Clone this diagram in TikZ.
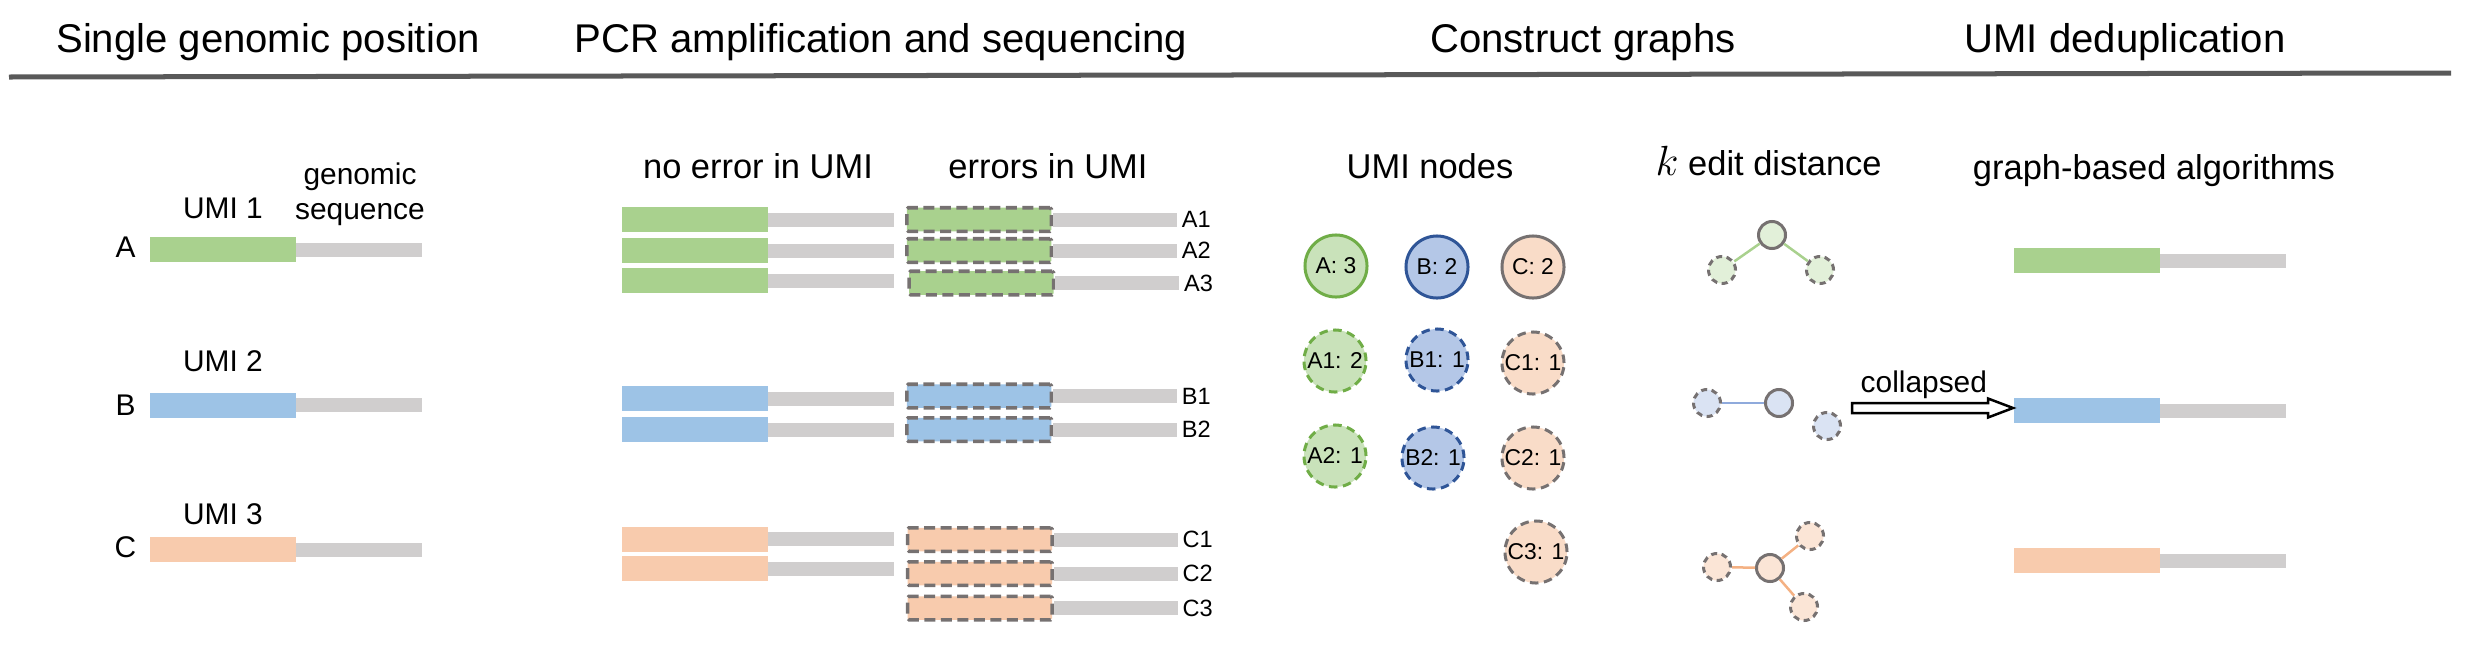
\documentclass[tikz,border=0pt]{standalone}
\usepackage{fontspec}
\setmainfont{Liberation Sans}
\usetikzlibrary{calc}
\definecolor{ugreen}{HTML}{A9D18E}
\definecolor{ublue}{HTML}{9DC3E6}
\definecolor{upeach}{HTML}{F8CBAD}
\definecolor{seqgray}{HTML}{D0CECE}
\definecolor{boxgray}{HTML}{767171}
\definecolor{rulegray}{HTML}{595959}
\definecolor{cAfill}{HTML}{C9E2BA}
\definecolor{cAdraw}{HTML}{70AD47}
\definecolor{cBfill}{HTML}{B4C7E7}
\definecolor{cBdraw}{HTML}{2F5597}
\definecolor{cCfill}{HTML}{F9DCC8}
\definecolor{gAfill}{HTML}{E2F0D9}
\definecolor{gBfill}{HTML}{DAE3F3}
\definecolor{gCfill}{HTML}{FBE5D6}
\definecolor{eA}{HTML}{A9D18E}
\definecolor{eB}{HTML}{8FAADC}
\definecolor{eC}{HTML}{F4B183}
\tikzset{
 title/.style={font=\fontsize{11.4}{13}\selectfont, anchor=base, inner sep=0},
 subtitle/.style={font=\fontsize{9.8}{12}\selectfont, anchor=base, inner sep=0},
 lbl/.style={font=\fontsize{8.5}{10}\selectfont, anchor=base, inner sep=0},
 rdlbl/.style={font=\fontsize{6.7}{8}\selectfont, anchor=west, inner sep=0},
 umibar/.style={rectangle, inner sep=0, outer sep=0, minimum width=1.46cm, minimum height=0.25cm, anchor=west},
 seqbar/.style={rectangle, inner sep=0, outer sep=0, fill=seqgray, minimum width=1.26cm, minimum height=0.14cm, anchor=west},
 errbox/.style={rectangle, inner sep=0, outer sep=0, draw=boxgray, line width=0.035cm, dash pattern=on 0.11cm off 0.055cm, rounded corners=0.015cm, minimum width=1.445cm, minimum height=0.235cm, anchor=west},
 umicirc/.style={circle, inner sep=0, minimum size=0.62cm, line width=0.03cm, font=\fontsize{6.5}{8}\selectfont},
 errcirc/.style={umicirc, dash pattern=on 0.085cm off 0.055cm},
 gnode/.style={circle, inner sep=0, minimum size=0.27cm, line width=0.03cm, draw=boxgray},
 gerr/.style={gnode, dash pattern=on 0.06cm off 0.045cm},
 gedge/.style={line width=0.025cm},
 blockarrow/.style={draw=black, fill=white, line width=0.025cm, line join=miter},
}
\newcommand\mkread[4]{%
 \node[umibar, fill=#4] (#1u) at (#2,#3) {};
 \node[seqbar] (#1s) at (#1u.east) {};
}
\newcommand\mkerr[5]{%
 \node[errbox, fill=#4] (#1u) at (#2,#3) {};
 \node[seqbar, minimum width=1.24cm] (#1s) at ($(#1u.east)+(1.75,0)$) {};
 \node[rdlbl] (#1l) at ($(#1s.east)+(4,0)$) {#5};
}
\begin{document}
\begin{tikzpicture}[x=0.01cm, y=-0.01cm]
\path[use as bounding box] (0,0) rectangle (2466,645);
% titles
\node[title] (t1) at (268,52) {Single genomic position};
\node[title] (t2) at (881,52) {PCR amplification and sequencing};
\node[title] (t3) at (1583,52) {Construct graphs};
\node[title] (t4) at (2125,52) {UMI deduplication};
\coordinate (ruleL) at (9,77);
\coordinate (ruleR) at (2451,73);
\draw[rulegray, line width=0.05cm] (ruleL) -- (ruleR);
% section 1
\node[lbl] (gen1) at (360,184) {genomic};
\node[lbl] (gen2) at (360,219) {sequence};
\node[lbl] (umi1) at (223,218) {UMI 1};
\node[lbl] (umi2) at (223,371) {UMI 2};
\node[lbl] (umi3) at (223,524) {UMI 3};
\node[lbl] (la) at (125.5,257) {A};
\node[lbl] (lb) at (125.5,415) {B};
\node[lbl] (lc) at (125.5,557) {C};
\mkread{sA}{150}{249.5}{ugreen}
\mkread{sB}{150}{405}{ublue}
\mkread{sC}{150}{549.5}{upeach}
% section 2
\node[subtitle] (noerr) at (758,178) {no error in UMI};
\node[subtitle] (err) at (1048,178) {errors in UMI};
\mkread{nA1}{621.5}{219.5}{ugreen}
\mkread{nA2}{621.5}{250.5}{ugreen}
\mkread{nA3}{621.5}{280.5}{ugreen}
\mkread{nB1}{621.5}{398.5}{ublue}
\mkread{nB2}{621.5}{429.5}{ublue}
\mkread{nC1}{621.5}{539}{upeach}
\mkread{nC2}{621.5}{568.5}{upeach}
\mkerr{eA1}{906.75}{219.5}{ugreen}{A1}
\mkerr{eA2}{906.75}{250.5}{ugreen}{A2}
\mkerr{eA3}{909}{283}{ugreen}{A3}
\mkerr{eB1}{906.75}{396}{ublue}{B1}
\mkerr{eB2}{906.75}{429.5}{ublue}{B2}
\mkerr{eC1}{907.5}{539.5}{upeach}{C1}
\mkerr{eC2}{907.5}{573.5}{upeach}{C2}
\mkerr{eC3}{907.5}{608}{upeach}{C3}
% section 3
\node[subtitle] (umin) at (1430,178) {UMI nodes};
\node[umicirc, draw=cAdraw, fill=cAfill] (cA) at (1336,266) {A: 3};
\node[umicirc, draw=cBdraw, fill=cBfill] (cB) at (1437,267) {B: 2};
\node[umicirc, draw=boxgray, fill=cCfill] (cC) at (1533,267) {C: 2};
\node[errcirc, draw=cAdraw, fill=cAfill] (cA1) at (1335,361) {A1: 2};
\node[errcirc, draw=cBdraw, fill=cBfill] (cB1) at (1437,360) {B1: 1};
\node[errcirc, draw=boxgray, fill=cCfill] (cC1) at (1533,363) {C1: 1};
\node[errcirc, draw=cAdraw, fill=cAfill] (cA2) at (1335,456) {A2: 1};
\node[errcirc, draw=cBdraw, fill=cBfill] (cB2) at (1433,458) {B2: 1};
\node[errcirc, draw=boxgray, fill=cCfill] (cC2) at (1533,458) {C2: 1};
\node[errcirc, draw=boxgray, fill=cCfill] (cC3) at (1536,552) {C3: 1};
% section 4
\node[subtitle, anchor=base west] (kdist) at (1655,175) {{\fontsize{12}{14}\selectfont$k$} edit distance};
\node[gnode, fill=gAfill] (gA) at (1772,235) {};
\node[gerr, fill=gAfill] (gA1) at (1722,270) {};
\node[gerr, fill=gAfill] (gA2) at (1820,270) {};
\draw[gedge, eA] (gA) -- (gA1);
\draw[gedge, eA] (gA) -- (gA2);
\node[gerr, fill=gBfill] (gB1) at (1707,403) {};
\node[gnode, fill=gBfill] (gB) at (1779,403) {};
\node[gerr, fill=gBfill] (gB2) at (1827,426) {};
\draw[gedge, eB] (gB1) -- (gB);
\node[gnode, fill=gCfill] (gC) at (1770,568) {};
\node[gerr, fill=gCfill] (gC1) at (1717,567) {};
\node[gerr, fill=gCfill] (gC2) at (1810,536) {};
\node[gerr, fill=gCfill] (gC3) at (1804,607) {};
\draw[gedge, eC] (gC) -- (gC1);
\draw[gedge, eC] (gC) -- (gC2);
\draw[gedge, eC] (gC) -- (gC3);
% section 5
\node[subtitle] (gba) at (2154,179) {graph-based algorithms};
\mkread{dA}{2014}{260.5}{ugreen}
\mkread{dB}{2014}{410.5}{ublue}
\mkread{dC}{2014}{560.5}{upeach}
% collapsed arrow
\coordinate (arrT) at ($(dBu.west)+(-1,-2.5)$);
\coordinate (arrS) at ($(arrT)+(-161,0)$);
\draw[blockarrow] ($(arrS)+(0,-5)$) -- ($(arrT)+(-25,-5)$) -- ($(arrT)+(-25,-9.5)$) -- (arrT) -- ($(arrT)+(-25,9.5)$) -- ($(arrT)+(-25,5)$) -- ($(arrS)+(0,5)$) -- cycle;
\node[lbl, anchor=base west] (coll) at (1860,392) {collapsed};
\end{tikzpicture}
\end{document}
